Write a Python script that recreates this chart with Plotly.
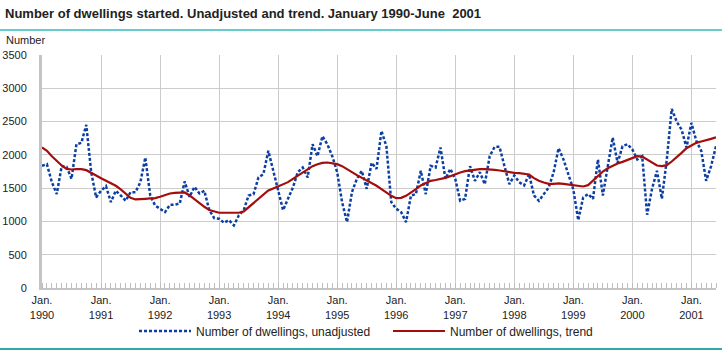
import plotly.graph_objects as go

years = list(range(1990, 2002))
tick_labels = [f"Jan.<br>{y}" for y in years]

unadjusted = [
    1835, 1860, 1590, 1410, 1830, 1820, 1640, 2160, 2180, 2450, 1740, 1360,
    1460, 1530, 1290, 1460, 1390, 1310, 1440, 1440, 1590, 1960, 1390, 1240,
    1190, 1140, 1250, 1250, 1270, 1600, 1370, 1520, 1420, 1460, 1170, 1050,
    1040, 980, 1020, 940, 1090, 1170, 1390, 1410, 1660, 1710, 2060, 1750,
    1450, 1170, 1340, 1510, 1740, 1810, 1660, 2160, 1980, 2280, 2160, 1980,
    1740, 1290, 990, 1440, 1640, 1760, 1490, 1880, 1790, 2360, 2130, 1290,
    1190, 1140, 990, 1390, 1410, 1760, 1410, 1835, 1810, 2110, 1640, 1790,
    1640, 1310, 1340, 1830, 1610, 1740, 1560, 1980, 2120, 2120, 1830, 1560,
    1690, 1590, 1540, 1710, 1390, 1310, 1410, 1510, 1740, 2100, 1930, 1720,
    1480, 1020, 1360, 1410, 1340, 1930, 1390, 1830, 2260, 1880, 2130, 2160,
    2080, 1930, 1980, 1100, 1490, 1760, 1340, 1930, 2690, 2500, 2380, 2110,
    2480, 2210, 2060, 1610, 1830, 2130,
]

trend = [
    2110, 2060, 1980, 1910, 1840, 1790, 1780, 1785, 1785, 1770, 1735, 1690,
    1650, 1610, 1575, 1535, 1480, 1415, 1355, 1330, 1330, 1340, 1345, 1350,
    1370, 1395, 1420, 1430, 1435, 1435, 1390, 1330, 1270, 1220, 1170, 1145,
    1130, 1130, 1130, 1130, 1130, 1150, 1215, 1285, 1350, 1410, 1465, 1495,
    1525, 1555, 1590, 1640, 1690, 1740, 1790, 1830, 1860, 1880, 1885, 1875,
    1860, 1830, 1790, 1740, 1695, 1655, 1620, 1585, 1535, 1485, 1435, 1385,
    1350, 1355, 1385, 1430, 1485, 1540, 1580, 1610, 1622, 1635, 1655, 1680,
    1710, 1735, 1755, 1765, 1780, 1786, 1786, 1786, 1775, 1765, 1750, 1740,
    1730, 1725, 1718, 1705, 1650, 1610, 1585, 1565, 1565, 1572, 1565, 1555,
    1545, 1530, 1525, 1545, 1610, 1680, 1750, 1800, 1840, 1870, 1895, 1920,
    1955, 1980, 1975, 1930, 1885, 1840, 1830, 1845, 1900, 1960, 2030, 2100,
    2140, 2180, 2200, 2215, 2240, 2265,
]

months = list(range(len(unadjusted)))
tick_positions = [12 * i for i in range(len(years))]

label_font = "Liberation Sans Narrow, Arial Narrow, Liberation Sans, Arial, sans-serif"

fig = go.Figure()
fig.add_trace(go.Scatter(
    x=months, y=unadjusted, mode="lines",
    name="Number of dwellings, unadjusted",
    line=dict(color="#0b3fa3", width=2.5, dash="3px,2px"),
))
fig.add_trace(go.Scatter(
    x=months, y=trend, mode="lines",
    name="Number of dwellings, trend",
    line=dict(color="#a30d0d", width=2.2),
))

W, H = 722, 353
L, R, T, B = 42, 6, 55, 65
pw = W - L - R
ph = H - T - B

def px_x(p):
    return (p - L) / pw

def px_y(p):
    return (H - B - p) / ph

fig.update_layout(
    width=W, height=H,
    margin=dict(l=L, r=R, t=T, b=B, autoexpand=False),
    paper_bgcolor="white", plot_bgcolor="white",
    title=dict(
        text="<b>Number of dwellings started. Unadjusted and trend. January 1990-June  2001</b>",
        x=5 / W, xanchor="left", xref="container",
        y=1 - 13 / H, yanchor="middle", yref="container",
        font=dict(family="Liberation Sans, Arial, sans-serif", size=13, color="#222"),
    ),
    showlegend=True,
    legend=dict(
        orientation="h", xref="container", yref="container",
        x=388 / W, xanchor="center", y=1 - 331 / H, yanchor="middle",
        font=dict(family=label_font, size=12, color="#222"),
        itemwidth=52, entrywidth=187, bgcolor="rgba(0,0,0,0)",
    ),
    xaxis=dict(
        range=[0, 137], tickvals=tick_positions, ticktext=tick_labels,
        showgrid=True, gridcolor="#cccccc", gridwidth=1.2,
        showline=True, linecolor="#c4c4c4", linewidth=2,
        ticks="", zeroline=False, ticklabelstandoff=1, automargin=False,
        minor=dict(dtick=1, tick0=0, ticks="inside", ticklen=5,
                   tickcolor="#bdbdbd", tickwidth=1, showgrid=False),
        tickfont=dict(family=label_font, size=11, color="#222"),
    ),
    yaxis=dict(
        range=[0, 3500], dtick=500, tick0=0,
        showgrid=True, gridcolor="#cccccc", gridwidth=1.4,
        showline=True, linecolor="#c4c4c4", linewidth=3,
        ticks="", zeroline=False, ticklabelstandoff=10, automargin=False,
        tickfont=dict(family=label_font, size=11, color="#222"),
    ),
    shapes=[
        dict(type="line", xref="paper", yref="paper",
             x0=px_x(0), x1=px_x(W), y0=px_y(30), y1=px_y(30),
             line=dict(color="#66cccc", width=2)),
        dict(type="line", xref="paper", yref="paper",
             x0=px_x(0), x1=px_x(W), y0=px_y(349), y1=px_y(349),
             line=dict(color="#33aaaa", width=2)),
    ],
    annotations=[
        dict(text="Number", xref="paper", yref="paper",
             x=px_x(4), y=px_y(40), xanchor="left", yanchor="middle",
             showarrow=False,
             font=dict(family=label_font, size=11, color="#222")),
    ],
)

fig.write_html("out.html")
